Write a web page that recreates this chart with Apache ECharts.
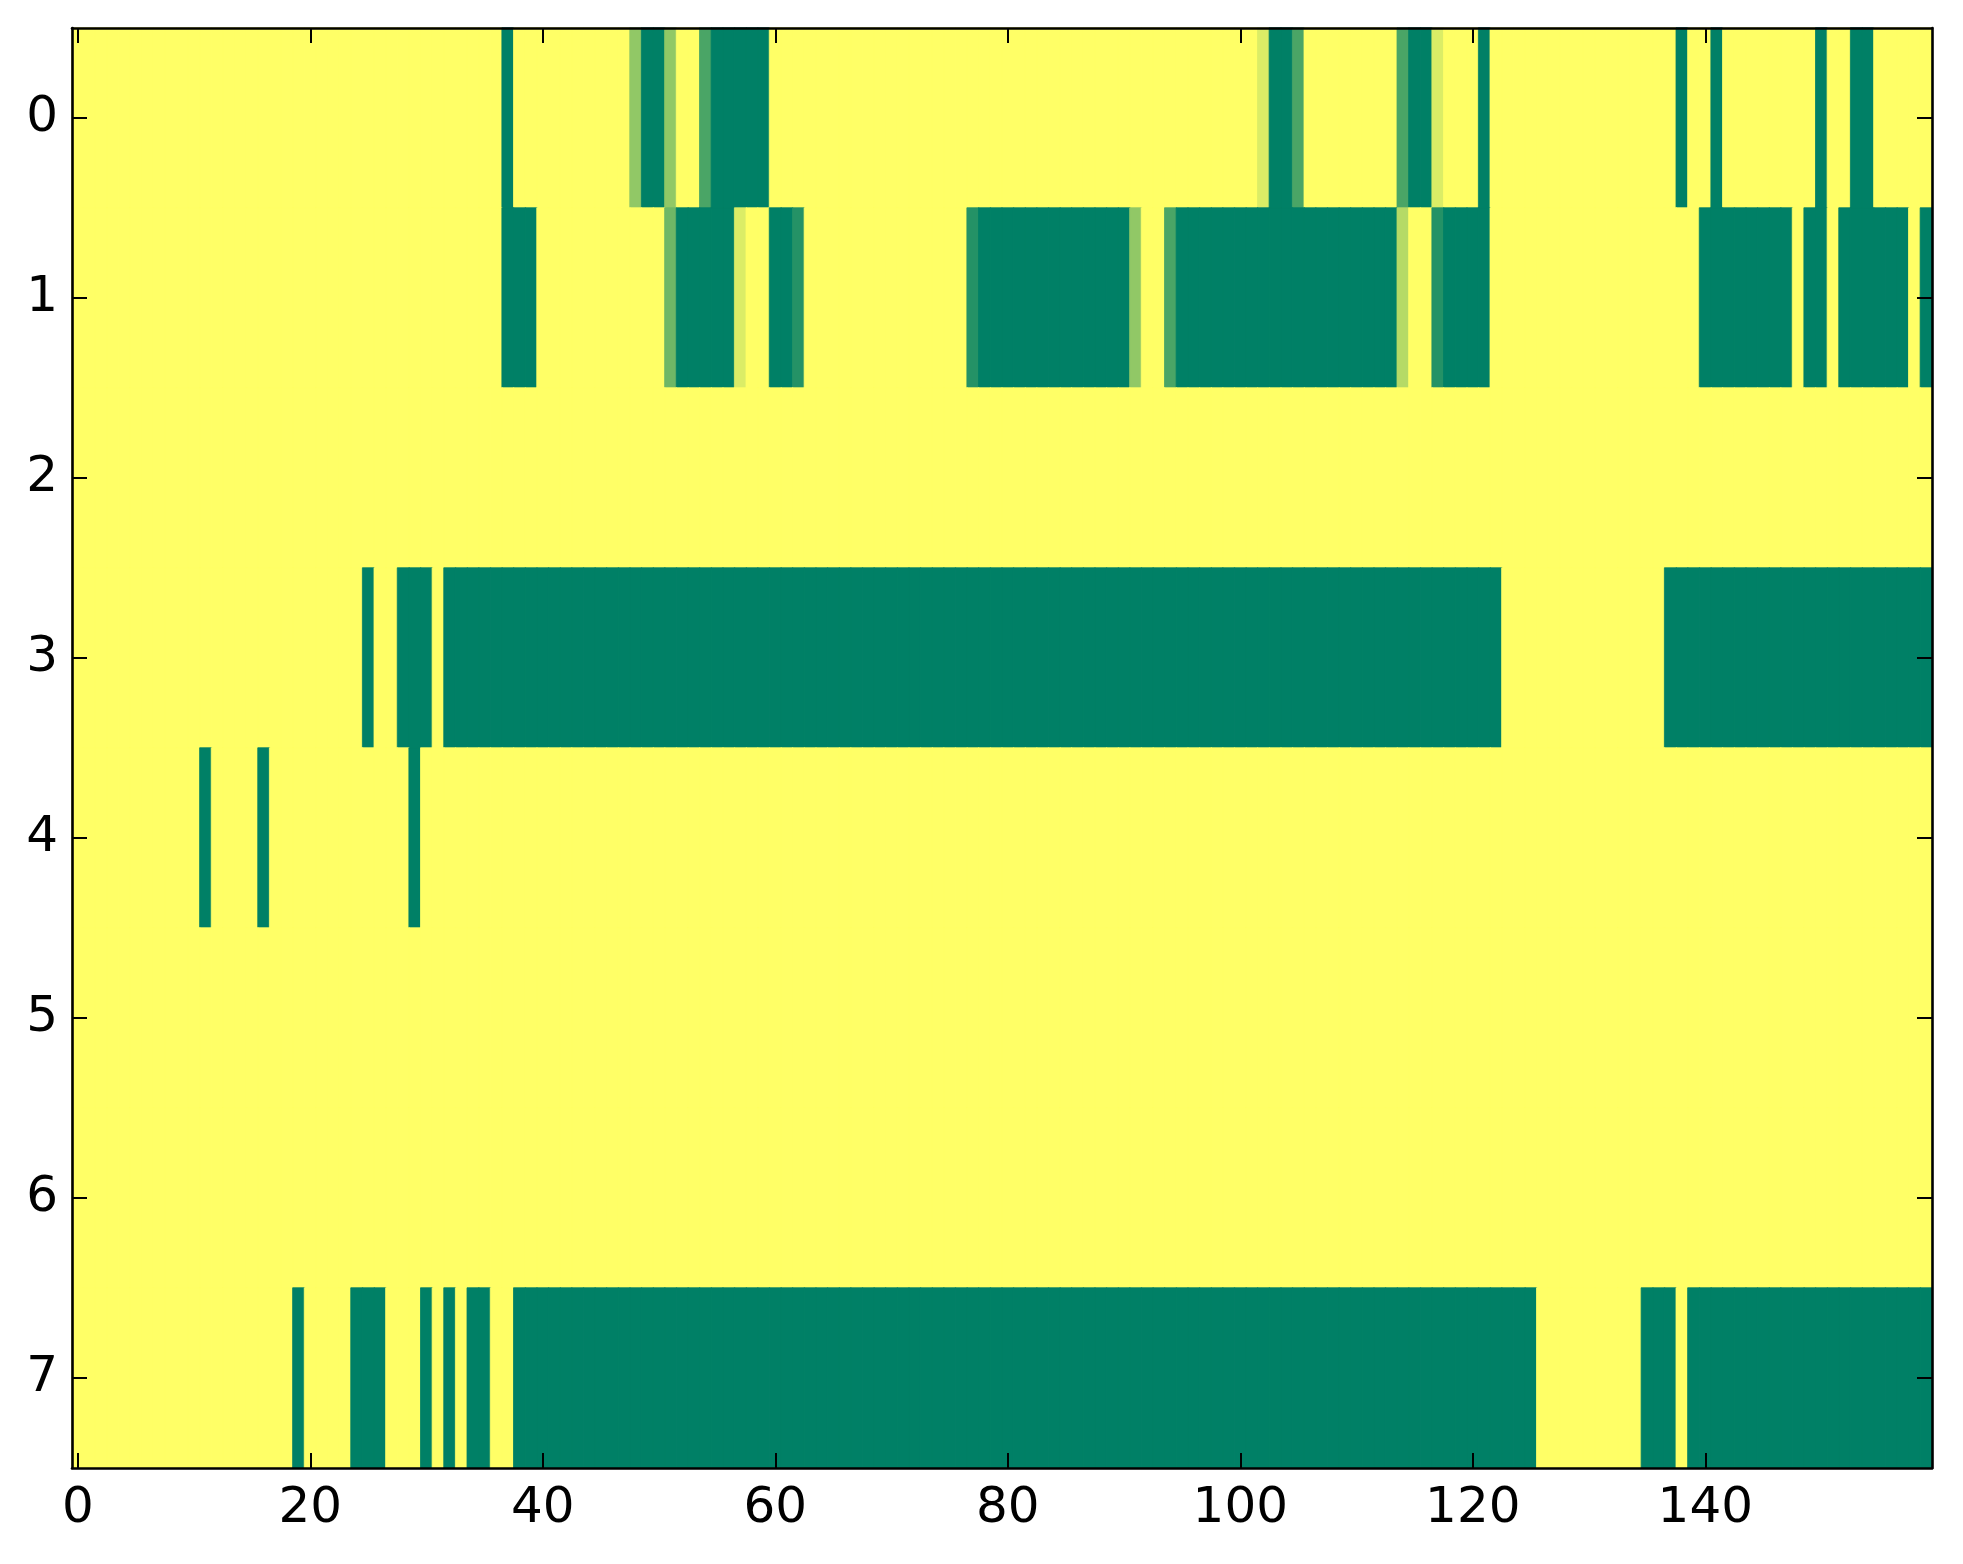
<!DOCTYPE html>
<html>
<head>
<meta charset="utf-8">
<script src="https://cdn.jsdelivr.net/npm/echarts@6/dist/echarts.min.js"></script>
<style>
html,body{margin:0;padding:0;background:#fff;}
#chart{width:1963px;height:1564px;}
</style>
</head>
<body>
<div id="chart"></div>
<script>
// column categories 0..159 and row categories 0..7
var columns = [
  0,1,2,3,4,5,6,7,8,9, 10,11,12,13,14,15,16,17,18,19,
  20,21,22,23,24,25,26,27,28,29, 30,31,32,33,34,35,36,37,38,39,
  40,41,42,43,44,45,46,47,48,49, 50,51,52,53,54,55,56,57,58,59,
  60,61,62,63,64,65,66,67,68,69, 70,71,72,73,74,75,76,77,78,79,
  80,81,82,83,84,85,86,87,88,89, 90,91,92,93,94,95,96,97,98,99,
  100,101,102,103,104,105,106,107,108,109, 110,111,112,113,114,115,116,117,118,119,
  120,121,122,123,124,125,126,127,128,129, 130,131,132,133,134,135,136,137,138,139,
  140,141,142,143,144,145,146,147,148,149, 150,151,152,153,154,155,156,157,158,159
];
var rows = [0,1,2,3,4,5,6,7];

var row0 = [
  1,1,1,1,1,1,1,1,1,1,
  1,1,1,1,1,1,1,1,1,1,
  1,1,1,1,1,1,1,1,1,1,
  1,1,1,1,1,1,1,0,1,1,
  1,1,1,1,1,1,1,1,0.57,0,
  0,0.57,1,1,0.29,0,0,0,0,0,
  1,1,1,1,1,1,1,1,1,1,
  1,1,1,1,1,1,1,1,1,1,
  1,1,1,1,1,1,1,1,1,1,
  1,1,1,1,1,1,1,1,1,1,
  1,1,0.86,0,0,0.29,1,1,1,1,
  1,1,1,1,0.29,0,0,0.86,1,1,
  1,0,1,1,1,1,1,1,1,1,
  1,1,1,1,1,1,1,1,0,1,
  1,0,1,1,1,1,1,1,1,1,
  0,1,1,0,0,1,1,1,1,1
];
var row1 = [
  1,1,1,1,1,1,1,1,1,1,
  1,1,1,1,1,1,1,1,1,1,
  1,1,1,1,1,1,1,1,1,1,
  1,1,1,1,1,1,1,0,0,0,
  1,1,1,1,1,1,1,1,1,1,
  1,0.43,0,0,0,0,0,0.86,1,1,
  0,0,0.14,1,1,1,1,1,1,1,
  1,1,1,1,1,1,1,0.14,0,0,
  0,0,0,0,0,0,0,0,0,0,
  0,0.57,1,1,0.29,0,0,0,0,0,
  0,0,0,0,0,0,0,0,0,0,
  0,0,0,0,0.71,1,1,0.14,0,0,
  0,0,1,1,1,1,1,1,1,1,
  1,1,1,1,1,1,1,1,1,1,
  0,0,0,0,0,0,0,0,1,0,
  0,1,0,0,0,0,0,0,1,0
];
var row2 = [
  1,1,1,1,1,1,1,1,1,1, 1,1,1,1,1,1,1,1,1,1,
  1,1,1,1,1,1,1,1,1,1, 1,1,1,1,1,1,1,1,1,1,
  1,1,1,1,1,1,1,1,1,1, 1,1,1,1,1,1,1,1,1,1,
  1,1,1,1,1,1,1,1,1,1, 1,1,1,1,1,1,1,1,1,1,
  1,1,1,1,1,1,1,1,1,1, 1,1,1,1,1,1,1,1,1,1,
  1,1,1,1,1,1,1,1,1,1, 1,1,1,1,1,1,1,1,1,1,
  1,1,1,1,1,1,1,1,1,1, 1,1,1,1,1,1,1,1,1,1,
  1,1,1,1,1,1,1,1,1,1, 1,1,1,1,1,1,1,1,1,1
];
var row3 = [
  1,1,1,1,1,1,1,1,1,1,
  1,1,1,1,1,1,1,1,1,1,
  1,1,1,1,1,0,1,1,0,0,
  0,1,0,0,0,0,0,0,0,0,
  0,0,0,0,0,0,0,0,0,0,
  0,0,0,0,0,0,0,0,0,0,
  0,0,0,0,0,0,0,0,0,0,
  0,0,0,0,0,0,0,0,0,0,
  0,0,0,0,0,0,0,0,0,0,
  0,0,0,0,0,0,0,0,0,0,
  0,0,0,0,0,0,0,0,0,0,
  0,0,0,0,0,0,0,0,0,0,
  0,0,0,1,1,1,1,1,1,1,
  1,1,1,1,1,1,1,0,0,0,
  0,0,0,0,0,0,0,0,0,0,
  0,0,0,0,0,0,0,0,0,0
];
var row4 = [
  1,1,1,1,1,1,1,1,1,1,
  1,0,1,1,1,1,0,1,1,1,
  1,1,1,1,1,1,1,1,1,0,
  1,1,1,1,1,1,1,1,1,1,
  1,1,1,1,1,1,1,1,1,1, 1,1,1,1,1,1,1,1,1,1,
  1,1,1,1,1,1,1,1,1,1, 1,1,1,1,1,1,1,1,1,1,
  1,1,1,1,1,1,1,1,1,1, 1,1,1,1,1,1,1,1,1,1,
  1,1,1,1,1,1,1,1,1,1, 1,1,1,1,1,1,1,1,1,1,
  1,1,1,1,1,1,1,1,1,1, 1,1,1,1,1,1,1,1,1,1,
  1,1,1,1,1,1,1,1,1,1, 1,1,1,1,1,1,1,1,1,1
];
var row5 = [
  1,1,1,1,1,1,1,1,1,1, 1,1,1,1,1,1,1,1,1,1,
  1,1,1,1,1,1,1,1,1,1, 1,1,1,1,1,1,1,1,1,1,
  1,1,1,1,1,1,1,1,1,1, 1,1,1,1,1,1,1,1,1,1,
  1,1,1,1,1,1,1,1,1,1, 1,1,1,1,1,1,1,1,1,1,
  1,1,1,1,1,1,1,1,1,1, 1,1,1,1,1,1,1,1,1,1,
  1,1,1,1,1,1,1,1,1,1, 1,1,1,1,1,1,1,1,1,1,
  1,1,1,1,1,1,1,1,1,1, 1,1,1,1,1,1,1,1,1,1,
  1,1,1,1,1,1,1,1,1,1, 1,1,1,1,1,1,1,1,1,1
];
var row6 = [
  1,1,1,1,1,1,1,1,1,1, 1,1,1,1,1,1,1,1,1,1,
  1,1,1,1,1,1,1,1,1,1, 1,1,1,1,1,1,1,1,1,1,
  1,1,1,1,1,1,1,1,1,1, 1,1,1,1,1,1,1,1,1,1,
  1,1,1,1,1,1,1,1,1,1, 1,1,1,1,1,1,1,1,1,1,
  1,1,1,1,1,1,1,1,1,1, 1,1,1,1,1,1,1,1,1,1,
  1,1,1,1,1,1,1,1,1,1, 1,1,1,1,1,1,1,1,1,1,
  1,1,1,1,1,1,1,1,1,1, 1,1,1,1,1,1,1,1,1,1,
  1,1,1,1,1,1,1,1,1,1, 1,1,1,1,1,1,1,1,1,1
];
var row7 = [
  1,1,1,1,1,1,1,1,1,1,
  1,1,1,1,1,1,1,1,1,0,
  1,1,1,1,0,0,0,1,1,1,
  0,1,0,1,0,0,1,1,0,0,
  0,0,0,0,0,0,0,0,0,0,
  0,0,0,0,0,0,0,0,0,0,
  0,0,0,0,0,0,0,0,0,0,
  0,0,0,0,0,0,0,0,0,0,
  0,0,0,0,0,0,0,0,0,0,
  0,0,0,0,0,0,0,0,0,0,
  0,0,0,0,0,0,0,0,0,0,
  0,0,0,0,0,0,0,0,0,0,
  0,0,0,0,0,0,1,1,1,1,
  1,1,1,1,1,0,0,0,1,0,
  0,0,0,0,0,0,0,0,0,0,
  0,0,0,0,0,0,0,0,0,0
];
var matrix = [row0,row1,row2,row3,row4,row5,row6,row7];
var xTickLabels = ['0','20','40','60','80','100','120','140'];
var yTickLabels = ['0','1','2','3','4','5','6','7'];

// summer colormap end points
var cmap = ['#008066', '#ffff66'];

var cells = [];
for (var r = 0; r < matrix.length; r++) {
  for (var c = 0; c < matrix[r].length; c++) {
    var v = matrix[r][c];
    // same-colour hairline border hides antialiasing seams between cells
    cells.push({ value: [c, r, v], itemStyle: { borderColor: echarts.color.lerp(v, cmap), borderWidth: 0.8 } });
  }
}

var FONT = 'DejaVu Sans';
var xLabelSet = {};
xTickLabels.forEach(function (t) { xLabelSet[t] = true; });
function xTickShown(idx) { return xLabelSet[String(columns[idx])] === true; }

var lineStyle = { color: '#000', width: 2.6 };
var tickStyle = { color: '#000', width: 2 };

var chart = echarts.init(document.getElementById('chart'), null, { renderer: 'canvas' });
chart.setOption({
  animation: false,
  backgroundColor: '#ffffff',
  grid: { left: 72, right: 31, top: 28, bottom: 96, containLabel: false },
  xAxis: [
    {
      type: 'category', data: columns.map(String), position: 'bottom', z: 10,
      axisLine: { show: true, lineStyle: lineStyle },
      axisTick: { show: true, inside: true, length: 15, alignWithLabel: true, interval: function (i) { return xTickShown(i); }, lineStyle: tickStyle },
      axisLabel: { show: true, interval: function (i) { return xTickShown(i); }, fontFamily: FONT, fontSize: 50, color: '#000', margin: 16 },
      splitLine: { show: false }
    },
    {
      type: 'category', data: columns.map(String), position: 'top', z: 10,
      axisLine: { show: true, lineStyle: lineStyle },
      axisTick: { show: true, inside: true, length: 15, alignWithLabel: true, interval: function (i) { return xTickShown(i); }, lineStyle: tickStyle },
      axisLabel: { show: false },
      splitLine: { show: false }
    }
  ],
  yAxis: [
    {
      type: 'category', data: rows.map(String), inverse: true, position: 'left', z: 10,
      axisLine: { show: true, lineStyle: lineStyle },
      axisTick: { show: true, inside: true, length: 15, alignWithLabel: true, interval: 0, lineStyle: tickStyle },
      axisLabel: { show: true, interval: 0, fontFamily: FONT, fontSize: 50, color: '#000', margin: 14,
        formatter: function (v, i) { return yTickLabels[i]; } },
      splitLine: { show: false }
    },
    {
      type: 'category', data: rows.map(String), inverse: true, position: 'right', z: 10,
      axisLine: { show: true, lineStyle: lineStyle },
      axisTick: { show: true, inside: true, length: 15, alignWithLabel: true, interval: 0, lineStyle: tickStyle },
      axisLabel: { show: false },
      splitLine: { show: false }
    }
  ],
  visualMap: {
    show: false, type: 'continuous', min: 0, max: 1, dimension: 2,
    inRange: { color: cmap }
  },
  series: [{
    type: 'heatmap', xAxisIndex: 0, yAxisIndex: 0,
    data: cells, progressive: 0,
    emphasis: { disabled: true },
    z: 0
  }]
});
</script>
</body>
</html>
